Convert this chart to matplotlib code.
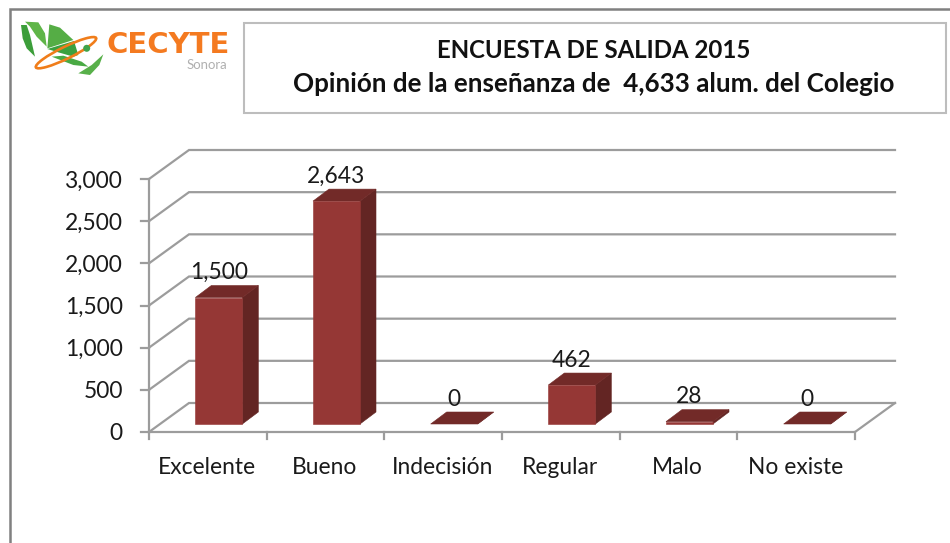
#!/usr/bin/env python3
"""Encuesta de salida 2015 - pseudo 3D column chart."""

import matplotlib
matplotlib.use('Agg')
import matplotlib.pyplot as plt
from matplotlib.patches import Polygon, Rectangle, Ellipse, Circle

plt.rcParams['font.family'] = ['Lato', 'DejaVu Sans']

categories = ['Excelente', 'Bueno', 'Indecisión', 'Regular', 'Malo', 'No existe']
values = [1500, 2643, 0, 462, 28, 0]
value_labels = ['1,500', '2,643', '0', '462', '28', '0']
y_ticks = [0, 500, 1000, 1500, 2000, 2500, 3000]
y_tick_labels = ['0', '500', '1,000', '1,500', '2,000', '2,500', '3,000']

W, H = 950, 543
GRID = '#9c9c9c'
FACE = '#953735'
SIDE = '#632523'
TOP = '#722a28'

fig = plt.figure(figsize=(W / 100, H / 100), dpi=100)
fig.patch.set_facecolor('white')

# overlay in image pixels, for frame, title box and logo
px = fig.add_axes([0, 0, 1, 1])
px.set_xlim(0, W)
px.set_ylim(H, 0)
px.axis('off')

# chart axes: front plane of the 3D box
L, R, Y0, Y3K = 149, 855, 432, 179
ax = fig.add_axes([L / W, 1 - Y0 / H, (R - L) / W, (Y0 - Y3K) / H])
ax.set_xlim(0, len(categories))
ax.set_ylim(0, 3000)
ax.axis('off')
ax.patch.set_alpha(0)

ux = (R - L) / len(categories)      # pixels per category
uy = (Y0 - Y3K) / 3000              # pixels per unit


def off(x, y, dx, dy):
    """Data point moved by dx, dy pixels (dy up)."""
    return (x + dx / ux, y + dy / uy)


# walls and floor
DEPTH_X, DEPTH_Y = 40, 29
n = len(categories)
for t in y_ticks:
    ax.plot(*zip((0, t), off(0, t, DEPTH_X, DEPTH_Y), off(n, t, DEPTH_X, DEPTH_Y)),
            color=GRID, lw=1.6, clip_on=False, zorder=1, solid_joinstyle='miter')
    ax.plot(*zip(off(0, t, -8, 0), (0, t)), color=GRID, lw=1.6, clip_on=False, zorder=1)
ax.plot([0, 0], [0, 3000], color=GRID, lw=1.6, clip_on=False, zorder=1)
ax.plot(*zip((0, 0), (n, 0), off(n, 0, DEPTH_X, DEPTH_Y)), color=GRID, lw=1.6,
        clip_on=False, zorder=1, solid_joinstyle='miter')
for i in range(n + 1):
    ax.plot(*zip((i, 0), off(i, 0, 0, -7)), color=GRID, lw=1.6, clip_on=False, zorder=1)

for t, lab in zip(y_ticks, y_tick_labels):
    ax.annotate(lab, (0, t), xytext=(-26, -2), textcoords='offset pixels', ha='right',
                va='center', fontsize=16.4, color='#1a1a1a', annotation_clip=False)
for i, lab in enumerate(categories):
    ax.annotate(lab, (i + 0.5, 0), xytext=(-1, -35), textcoords='offset pixels', ha='center',
                va='center', fontsize=16.4, color='#1a1a1a', annotation_clip=False)

# columns
BW = 47 / ux
BAR_DX, BAR_DY = 16, 12
for i, (v, lab) in enumerate(zip(values, value_labels)):
    x0 = i + 0.5 - BW / 2 + 11 / ux
    x1 = x0 + BW
    b = 8 / uy
    top = b + v
    ax.add_patch(Polygon([off(x1, b, 0, 0), off(x1, b, BAR_DX, BAR_DY),
                          off(x1, top, BAR_DX, BAR_DY), (x1, top)],
                         fc=SIDE, ec=SIDE, lw=0.4, zorder=3))
    ax.add_patch(Polygon([(x0, top), (x1, top), off(x1, top, BAR_DX, BAR_DY),
                          off(x0, top, BAR_DX, BAR_DY)], fc=TOP, ec=TOP, lw=0.4, zorder=3))
    if v > 0:
        ax.add_patch(Rectangle((x0, b), BW, v, fc=FACE, ec=FACE, lw=0.4, zorder=4))
    ax.annotate(lab, ((x0 + x1) / 2, top), xytext=(0, 25), textcoords='offset pixels',
                ha='center', va='center', fontsize=16.4, color='#1a1a1a',
                annotation_clip=False, zorder=5)

# outer frame and title box
px.plot([9.5, 9.5, 950], [543, 8.5, 8.5], color='#808080', lw=1.8, solid_joinstyle='miter')
px.add_patch(Rectangle((243.5, 22.5), 702, 90.5, fc='white', ec='#bdbdbd', lw=1.5))
px.text(594, 50, 'ENCUESTA DE SALIDA 2015', ha='center', va='center', fontsize=17.3,
        fontweight='bold', color='#111111')
px.text(593.5, 84, 'Opinión de la enseñanza de  4,633 alum. del Colegio', ha='center',
        va='center', fontsize=18.7, fontweight='bold', color='#111111')


def logo(points):
    return [(10 + a / 3, 15 + b / 3) for a, b in points]


px.add_patch(Polygon(logo([(33, 30), (50, 30), (60, 60), (75, 125), (50, 100), (38, 70)]),
                     fc='#3c9e3a', ec='none'))
px.add_patch(Polygon(logo([(45, 20), (85, 22), (105, 55), (110, 95), (80, 65), (60, 35)]),
                     fc='#5fb548', ec='none'))
px.add_patch(Polygon(logo([(118, 28), (150, 38), (190, 75), (112, 100)]),
                     fc='#55ad45', ec='none'))
px.add_patch(Polygon(logo([(112, 102), (192, 78), (205, 120), (190, 125), (145, 112)]),
                     fc='#3ba13f', ec='none'))
px.add_patch(Polygon(logo([(125, 125), (160, 122), (215, 140), (235, 155), (190, 150)]),
                     fc='#4aaa44', ec='none'))
px.add_patch(Polygon(logo([(205, 175), (245, 150), (280, 118), (268, 150), (240, 180)]),
                     fc='#58b04a', ec='none'))
px.add_patch(Ellipse((66, 52.7), 67, 12, angle=-26, fc='none', ec='#f07d1a', lw=1.9))
px.add_patch(Circle((86.7, 48.3), 3.5, fc='#3fa34a', ec='none'))
px.text(106, 45, 'CECYTE', ha='left', va='center', fontsize=21, fontweight='bold',
        family='DejaVu Sans', color='#f47a20')
px.text(227, 65, 'Sonora', ha='right', va='center', fontsize=9.5, color='#b0b0b0')

plt.savefig('out.png', dpi=100, facecolor='white')
